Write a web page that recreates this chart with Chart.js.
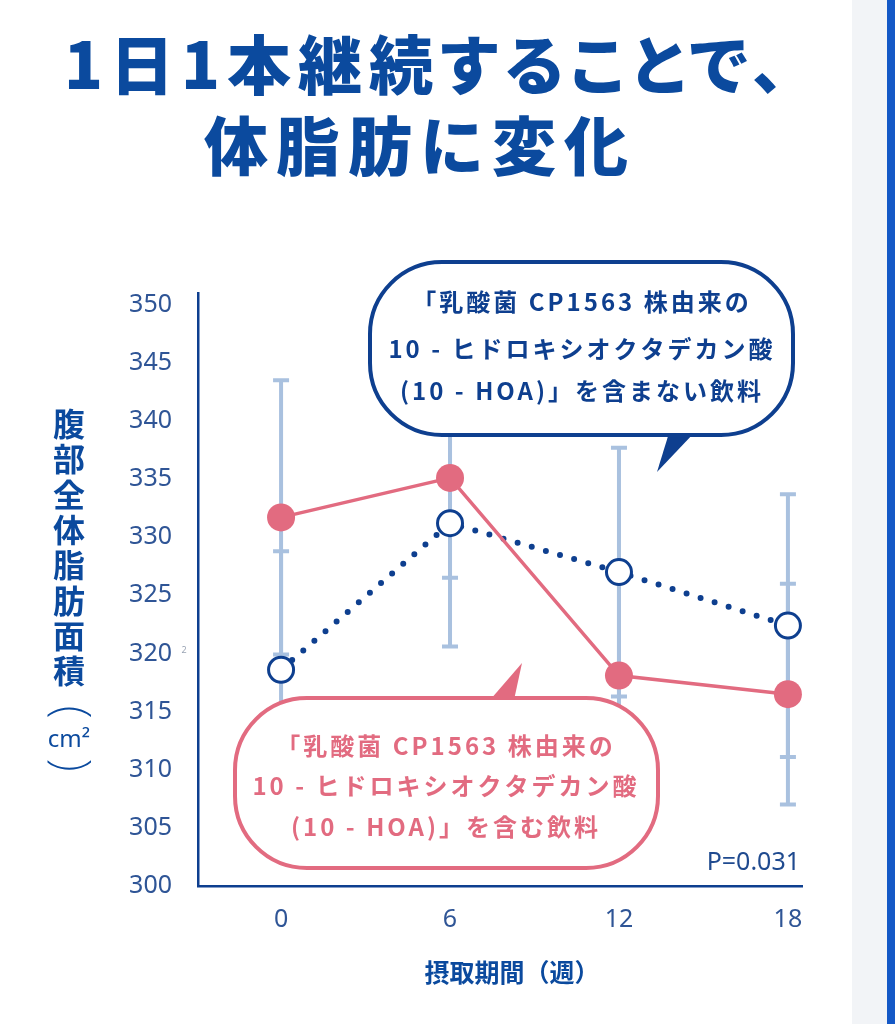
<!DOCTYPE html>
<html lang="ja">
<head>
<meta charset="utf-8">
<script src="https://cdn.jsdelivr.net/npm/chart.js@4.4.0/dist/chart.umd.min.js"></script>
<style>
  html, body { margin: 0; padding: 0; background: #fff; }
  body { width: 895px; height: 1024px; position: relative; overflow: hidden; font-family: "Noto Sans CJK JP", sans-serif; }
  #wrap { position: absolute; left: 0; top: 0; width: 852px; height: 1024px; }
  .title { position: absolute; white-space: nowrap; color: #0b4a9e; font-size: 64px; font-weight: 900; line-height: 81px; }
  #t1 { left: 64px; top: 21px; letter-spacing: 7px; font-feature-settings: "palt"; }
  #t2 { left: 204px; top: 102px; letter-spacing: 8px; }
  #strip { position: absolute; left: 852px; top: 0; width: 35px; height: 1024px; background: #f2f4f7; }
  #edge { position: absolute; left: 887px; top: 0; width: 8px; height: 1024px; background: #1458c6; }
</style>
</head>
<body>
<div id="wrap"><canvas id="chart" width="852" height="1024"></canvas></div>
<div class="title" id="t1">1日1本継続することで、</div>
<div class="title" id="t2">体脂肪に変化</div>
<div id="strip"></div>
<div id="edge"></div>
<script>
// dane
const weeks = [0, 6, 12, 18];
const withHOA = [331.7, 335.1, 318.1, 316.5];
const withHOASD = [11.8, 8.6, 9.3, 9.5];
const withoutHOA = [318.6, 331.2, 327.0, 322.4];
const withoutHOASD = [10.2, 10.6, 10.7, 11.3];
const yTicks = [300, 305, 310, 315, 320, 325, 330, 335, 340, 345, 350];
const yTitle = ['腹', '部', '全', '体', '脂', '肪', '面', '積'];
const xTitle = '摂取期間（週）';
const labelWithout = ['「乳酸菌 CP1563 株由来の', '10 - ヒドロキシオクタデカン酸', '(10 - HOA)」を含まない飲料'];
const labelWith = ['「乳酸菌 CP1563 株由来の', '10 - ヒドロキシオクタデカン酸', '(10 - HOA)」を含む飲料'];
const pValue = 'P=0.031';

const navy = '#0e3f8f';
const pink = '#e26b80';
const barColor = '#a9c1df';
const tickColor = '#2f5596';

// slupki bledow pod liniami
const errorBars = {
    id: 'errorBars',
    beforeDatasetsDraw(chart) {
        const ctx = chart.ctx;
        const x = chart.scales.x, y = chart.scales.y;
        ctx.save();
        ctx.strokeStyle = barColor;
        ctx.lineWidth = 4;
        chart.data.datasets.forEach(ds => {
            ds.data.forEach((p, i) => {
                const px = x.getPixelForValue(p.x);
                const top = y.getPixelForValue(p.y + ds.sd[i]);
                const bot = y.getPixelForValue(p.y - ds.sd[i]);
                ctx.beginPath();
                ctx.moveTo(px, top); ctx.lineTo(px, bot);
                ctx.moveTo(px - 8, top); ctx.lineTo(px + 8, top);
                ctx.moveTo(px - 8, bot); ctx.lineTo(px + 8, bot);
                ctx.stroke();
            });
        });
        // dymki zakrywaja slupki
        drawBubble(ctx, 370, 262, 423, 173, navy, [[669, 433], [694, 433], [657, 472]], labelWithout, 582, [302, 349, 391]);
        drawBubble(ctx, 235, 698, 423, 170, pink, [[490, 700], [514, 700], [522, 663]], labelWith, 446, [746, 786, 827]);
        ctx.restore();
    },
    afterDraw(chart) {
        const ctx = chart.ctx;
        ctx.save();
        ctx.fillStyle = '#0b4a9e';
        ctx.textAlign = 'center';
        ctx.textBaseline = 'middle';
        ctx.font = 'bold 32px "Noto Sans CJK JP"';
        yTitle.forEach((c, i) => ctx.fillText(c, 69, 424 + i * 35.3));
        ctx.font = '24px "Noto Sans"';
        ctx.fillText('cm²', 69, 740);
        ctx.font = '200 50px "Noto Sans"';
        ctx.save(); ctx.translate(69, 712); ctx.rotate(Math.PI / 2); ctx.fillText('(', 0, 0); ctx.restore();
        ctx.save(); ctx.translate(69, 765); ctx.rotate(Math.PI / 2); ctx.fillText(')', 0, 0); ctx.restore();
        ctx.font = 'bold 25px "Noto Sans CJK JP"';
        ctx.fillText(xTitle, 512, 972);
        ctx.fillStyle = '#1f4a8f';
        ctx.textAlign = 'right';
        ctx.font = '25px "Noto Sans"';
        ctx.fillText(pValue, 800, 863);
        ctx.fillStyle = '#9aa4b4';
        ctx.textAlign = 'center';
        ctx.font = '9px "Noto Sans"';
        ctx.fillText('2', 184, 650);
        ctx.restore();
    }
};

function drawBubble(ctx, x, y, w, h, color, tail, lines, cx, ys) {
    ctx.save();
    ctx.beginPath();
    ctx.roundRect(x, y, w, h, 72);
    ctx.fillStyle = '#fff';
    ctx.fill();
    ctx.lineWidth = 4;
    ctx.strokeStyle = color;
    ctx.stroke();
    ctx.beginPath();
    ctx.moveTo(tail[0][0], tail[0][1]);
    ctx.lineTo(tail[2][0], tail[2][1]);
    ctx.lineTo(tail[1][0], tail[1][1]);
    ctx.closePath();
    ctx.fillStyle = color;
    ctx.fill();
    ctx.font = 'bold 24px "Noto Sans CJK JP"';
    ctx.letterSpacing = '3px';
    ctx.textAlign = 'center';
    ctx.textBaseline = 'middle';
    lines.forEach((t, i) => ctx.fillText(t, cx, ys[i]));
    ctx.restore();
}

const ctx = document.getElementById('chart').getContext('2d');
const myChart = new Chart(ctx, {
    type: 'line',
    data: {
        datasets: [{
            label: '含む',
            data: weeks.map((w, i) => ({ x: w, y: withHOA[i] })),
            sd: withHOASD,
            borderColor: pink,
            borderWidth: 3.5,
            backgroundColor: pink,
            pointRadius: 14,
            pointBorderWidth: 0,
            pointBackgroundColor: pink,
            order: 1
        }, {
            label: '含まない',
            data: weeks.map((w, i) => ({ x: w, y: withoutHOA[i] })),
            sd: withoutHOASD,
            borderColor: navy,
            borderWidth: 6,
            borderDash: [0, 14.7],
            borderCapStyle: 'round',
            pointRadius: 12.5,
            pointBorderWidth: 3,
            pointBorderColor: navy,
            pointBackgroundColor: '#fff',
            order: 2
        }]
    },
    options: {
        responsive: false,
        animation: false,
        layout: { padding: { top: 293, right: 50, left: 0, bottom: 0 } },
        plugins: {
            legend: { display: false },
            tooltip: { enabled: false }
        },
        scales: {
            x: {
                type: 'linear',
                min: -2.95,
                max: 18.5,
                afterBuildTicks: s => { s.ticks = weeks.map(v => ({ value: v })); },
                afterFit: s => { s.height = 138; },
                grid: { display: false },
                border: { display: true, color: navy, width: 2.5 },
                ticks: {
                    color: tickColor,
                    padding: 11,
                    font: { family: '"Noto Sans"', size: 25 }
                }
            },
            y: {
                min: 300,
                max: 351,
                afterBuildTicks: s => { s.ticks = yTicks.map(v => ({ value: v })); },
                afterFit: s => { s.width = 198; },
                grid: { display: false },
                border: { display: true, color: navy, width: 2.5 },
                ticks: {
                    color: tickColor,
                    padding: 18,
                    font: { family: '"Noto Sans"', size: 25 }
                }
            }
        }
    },
    plugins: [errorBars]
});
</script>
</body>
</html>
